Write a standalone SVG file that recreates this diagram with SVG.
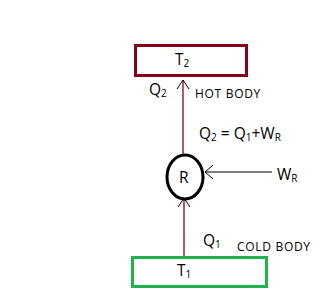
<svg xmlns="http://www.w3.org/2000/svg" width="323" height="294" viewBox="0 0 323 294">
<style>
text{font-family:"Open Sans","Noto Sans","Liberation Sans",sans-serif;fill:#000}
.big{font-size:15.5px}
.sm{font-size:12px;letter-spacing:0.7px}
.sub{font-size:10px}
.arr{fill:none;stroke:#000;stroke-width:1}
</style>
<rect width="323" height="294" fill="#fff"/>
<g id="connectors">
<line x1="183" y1="154" x2="183" y2="80" stroke="#880015" stroke-width="1.3"/>
<path class="arr" d="M177,89 L183,80 L189,89"/>
<line x1="184" y1="256" x2="184" y2="198" stroke="#880015" stroke-width="1.3"/>
<path class="arr" d="M178,207 L184,198 L190,207"/>
<line x1="205" y1="172" x2="272" y2="172" stroke="#000" stroke-width="1"/>
<path class="arr" d="M213,165 L205,172 L213,179"/>
</g>
<g id="hot">
<rect x="135.5" y="45.5" width="111" height="30" fill="none" stroke="#880015" stroke-width="3"/>
<text x="175" y="65" class="big">T<tspan class="sub" dy="2">2</tspan></text>
</g>
<g id="refrigerator">
<ellipse cx="185" cy="177" rx="18" ry="22" fill="none" stroke="#000" stroke-width="3"/>
<text x="179" y="183" class="big">R</text>
</g>
<g id="cold">
<rect x="132.5" y="257.5" width="134" height="29" fill="none" stroke="#22b14c" stroke-width="3"/>
<text x="177" y="276" class="big">T<tspan class="sub" dy="2">1</tspan></text>
</g>
<g id="labels">
<text x="149" y="95" class="big">Q<tspan class="sub" dy="2">2</tspan></text>
<text x="195" y="98" class="sm">HOT BODY</text>
<text x="199" y="139" class="big">Q<tspan class="sub" dy="2">2</tspan><tspan dy="-2"> = Q</tspan><tspan class="sub" dy="2">1</tspan><tspan dy="-2">+W</tspan><tspan class="sub" dy="2">R</tspan></text>
<text x="277" y="180" class="big">W<tspan class="sub" dy="2">R</tspan></text>
<text x="203" y="246" class="big">Q<tspan class="sub" dy="2">1</tspan></text>
<text x="237" y="251" class="sm">COLD BODY</text>
</g>
</svg>
